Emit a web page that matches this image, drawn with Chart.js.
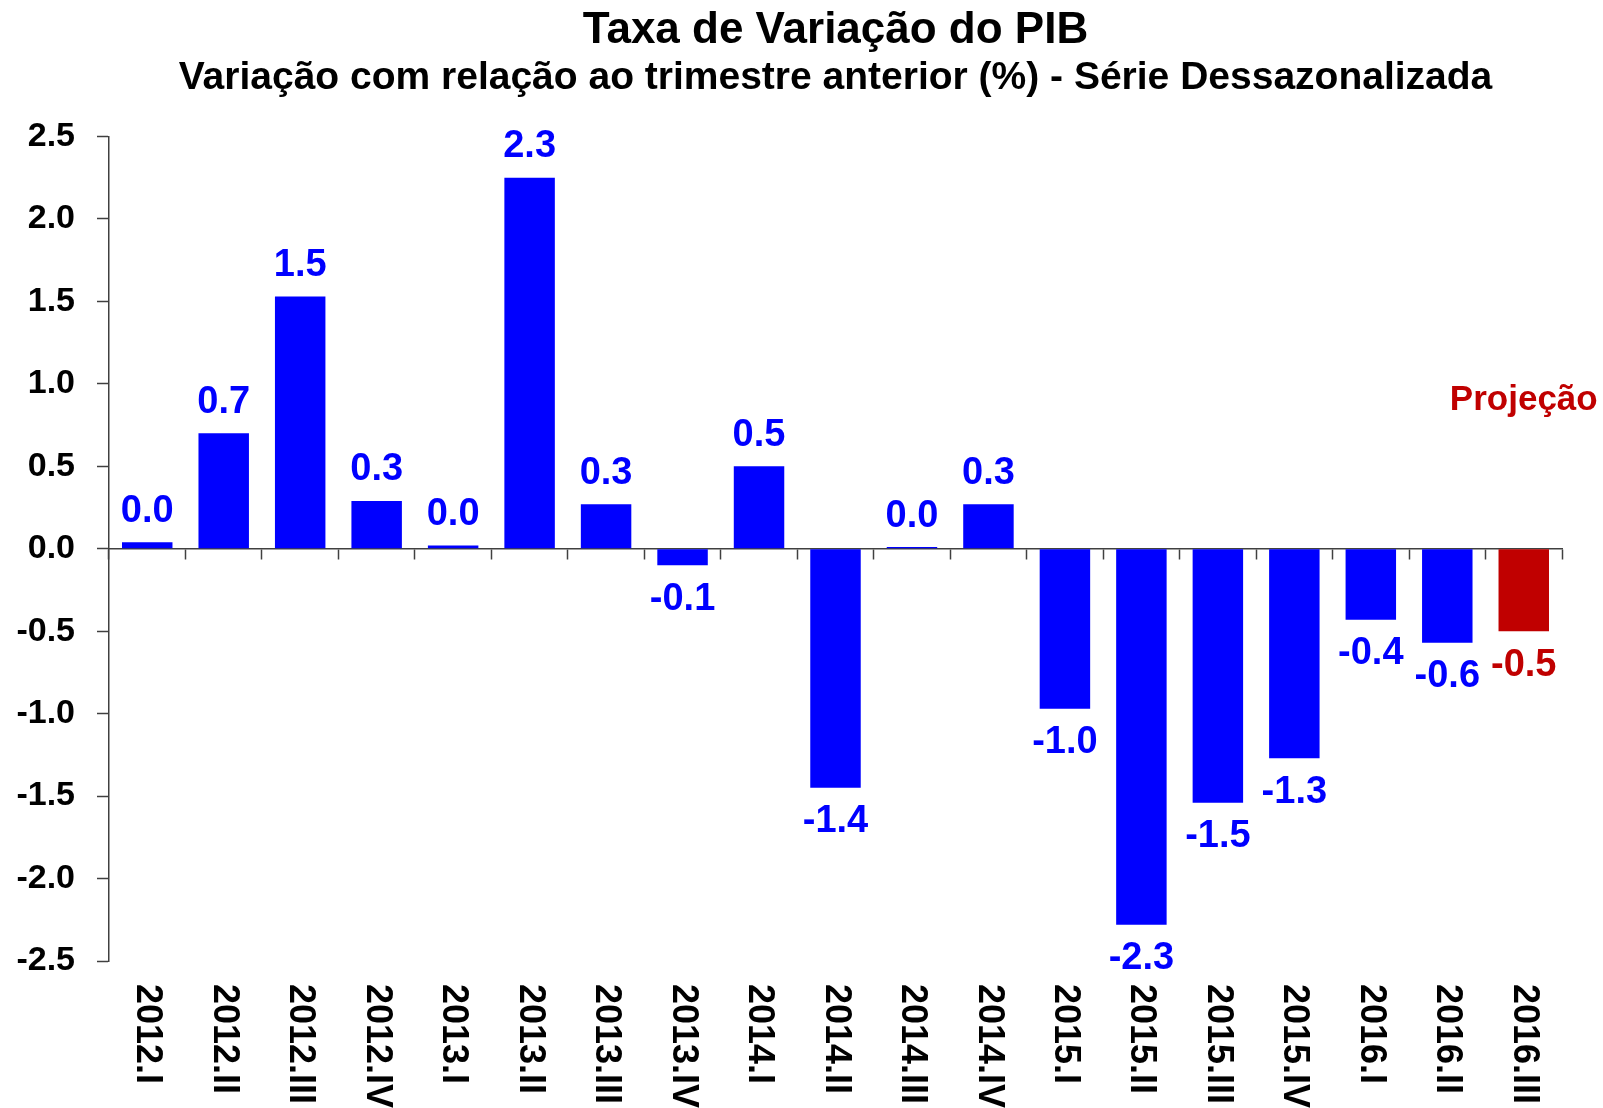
<!DOCTYPE html>
<html lang="pt">
<head>
<meta charset="UTF-8">
<title>Taxa de Variação do PIB</title>
<script src="https://cdn.jsdelivr.net/npm/chart.js"></script>
<style>
  html, body { margin: 0; padding: 0; background: #fff; }
  #wrap { width: 1603px; height: 1108px; }
</style>
</head>
<body>
<div id="wrap"><canvas id="pibChart"></canvas></div>
<script>
// quarters and GDP change (% q/q, seasonally adjusted)
const quarters = ['2012.I', '2012.II', '2012.III', '2012.IV', '2013.I', '2013.II', '2013.III', '2013.IV',
  '2014.I', '2014.II', '2014.III', '2014.IV', '2015.I', '2015.II', '2015.III', '2015.IV',
  '2016.I', '2016.II', '2016.III'];
const pibValues = [0.04, 0.70, 1.53, 0.29, 0.02, 2.25, 0.27, -0.10,
  0.50, -1.45, 0.01, 0.27, -0.97, -2.28, -1.54, -1.27,
  -0.43, -0.57, -0.50];
const projectionQuarters = ['2016.III'];
const projectionNote = 'Projeção';
const projectionNoteValue = 0.9;
const yMin = -2.5, yMax = 2.5, yStep = 0.5;

const blue = '#0000FF';
const red = '#C00000';
const axisColor = '#404040';
const fontFamily = '"Liberation Sans", Arial, Helvetica, sans-serif';

const barColors = quarters.map(q => projectionQuarters.includes(q) ? red : blue);

// value labels, rotated quarter labels and the "Projeção" note
const labelPlugin = {
  id: 'pibLabels',
  afterDatasetsDraw(chart) {
    const ctx = chart.ctx;
    const meta = chart.getDatasetMeta(0);
    const xs = chart.scales.x;
    const ys = chart.scales.y;
    ctx.save();
    ctx.font = 'bold 38px ' + fontFamily;
    ctx.textAlign = 'center';
    ctx.textBaseline = 'middle';
    meta.data.forEach((bar, i) => {
      const v = pibValues[i];
      ctx.fillStyle = barColors[i];
      ctx.fillText(v.toFixed(1), bar.x, v >= 0 ? bar.y - 31 : bar.y + 34);
    });

    ctx.font = 'bold 36px ' + fontFamily;
    ctx.fillStyle = '#000';
    ctx.textAlign = 'left';
    quarters.forEach((q, i) => {
      ctx.save();
      ctx.translate(xs.getPixelForValue(i), chart.chartArea.bottom + 23);
      ctx.rotate(Math.PI / 2);
      ctx.fillText(q, 0, 0);
      ctx.restore();
    });

    ctx.font = 'bold 35px ' + fontFamily;
    ctx.fillStyle = red;
    ctx.textAlign = 'center';
    const lastIdx = quarters.indexOf(projectionQuarters[0]);
    ctx.fillText(projectionNote, xs.getPixelForValue(lastIdx), ys.getPixelForValue(projectionNoteValue));
    ctx.restore();
  }
};

const ctx = document.getElementById('pibChart').getContext('2d');
new Chart(ctx, {
  type: 'bar',
  data: {
    labels: quarters,
    datasets: [{
      data: pibValues,
      backgroundColor: barColors,
      borderWidth: 0,
      barPercentage: 0.66,
      categoryPercentage: 1.0
    }]
  },
  options: {
    responsive: true,
    maintainAspectRatio: false,
    animation: false,
    layout: { padding: 0 },
    scales: {
      x: {
        type: 'category',
        offset: true,
        grid: { display: false },
        border: { display: false },
        ticks: { display: false },
        afterFit: s => { s.height = 147; }
      },
      // zero line with tick marks between the bars
      x0: {
        axis: 'x',
        type: 'category',
        labels: quarters,
        position: { y: 0 },
        offset: true,
        grid: { offset: true, drawOnChartArea: false, drawTicks: true, tickLength: 10, color: axisColor, tickColor: axisColor, tickWidth: 1.5 },
        border: { display: true, color: axisColor, width: 1.5 },
        ticks: { display: false }
      },
      y: {
        min: yMin,
        max: yMax,
        ticks: {
          stepSize: yStep,
          callback: v => v.toFixed(1),
          color: '#000',
          padding: 22,
          font: { family: fontFamily, size: 34, weight: 'bold' }
        },
        grid: { drawOnChartArea: false, drawTicks: true, tickLength: 12, tickColor: axisColor, tickWidth: 1.5 },
        border: { display: true, color: axisColor, width: 1.5 },
        afterFit: s => { s.width = 109; }
      },
      // empty right margin
      yRight: {
        axis: 'y',
        position: 'right',
        grid: { display: false },
        border: { display: false },
        ticks: { display: false },
        afterFit: s => { s.width = 41; }
      }
    },
    plugins: {
      legend: { display: false },
      tooltip: { enabled: false },
      title: {
        display: true,
        fullSize: false,
        text: 'Taxa de Variação do PIB',
        color: '#000',
        font: { family: fontFamily, size: 44, weight: 'bold', lineHeight: 1.15 },
        padding: { top: 6, bottom: 0 }
      },
      subtitle: {
        display: true,
        fullSize: false,
        text: 'Variação com relação ao trimestre anterior (%) - Série Dessazonalizada',
        color: '#000',
        font: { family: fontFamily, size: 39, weight: 'bold', lineHeight: 1.1 },
        padding: { top: 0, bottom: 37 }
      }
    }
  },
  plugins: [labelPlugin]
});
</script>
</body>
</html>
